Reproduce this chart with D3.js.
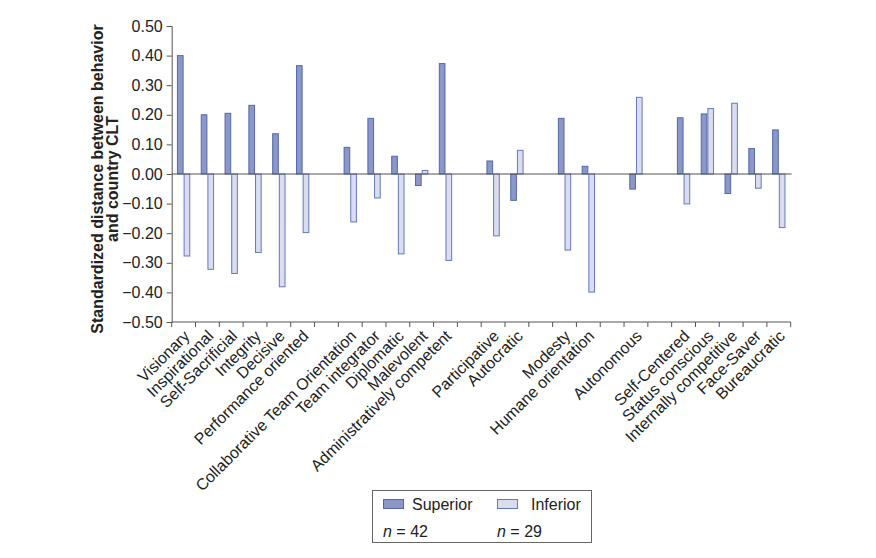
<!DOCTYPE html>
<html><head><meta charset="utf-8">
<script src="https://cdn.jsdelivr.net/npm/d3@7"></script>
<style>
body{margin:0;background:#fff;}
svg{font-family:"Liberation Sans",Arial,Helvetica,sans-serif;}
</style></head>
<body><svg id="c" width="876" height="558"></svg>
<script>
const categories = ["Visionary","Inspirational","Self-Sacrificial","Integrity","Decisive","Performance oriented",
  "Collaborative Team Orientation","Team integrator","Diplomatic","Malevolent","Administratively competent",
  "Participative","Autocratic",
  "Modesty","Humane orientation",
  "Autonomous",
  "Self-Centered","Status conscious","Internally competitive","Face-Saver","Bureaucratic"];
const groupOf = [0,0,0,0,0,0, 1,1,1,1,1, 2,2, 3,3, 4, 5,5,5,5,5];
const superior = [0.40,0.20,0.205,0.232,0.136,0.366, 0.090,0.188,0.060,-0.039,0.373, 0.044,-0.089, 0.188,0.026, -0.051, 0.190,0.203,-0.066,0.086,0.149];
const inferior = [-0.277,-0.322,-0.336,-0.265,-0.381,-0.198, -0.162,-0.081,-0.270,0.012,-0.292, -0.209,0.080, -0.257,-0.399, 0.259, -0.101,0.221,0.239,-0.048,-0.181];
const yTicks = [0.5,0.4,0.3,0.2,0.1,0,-0.1,-0.2,-0.3,-0.4,-0.5];
const seriesNames = ["Superior","Inferior"];
const seriesN = ["42","29"];

const svg = d3.select("#c");
const slotCount = categories.length + d3.max(groupOf);
const slots = d3.range(slotCount);
const x = d3.scaleBand().domain(slots).range([171.7, 790.7]).padding(0);
const y = d3.scaleLinear().domain([-0.5,0.5]).range([322,26]);
const slotOf = i => i + groupOf[i];
const bw = x.bandwidth()*0.28;

const colors = {Superior:{fill:"#8a97c7",stroke:"#5468ad"}, Inferior:{fill:"#d9ddef",stroke:"#6679bb"}};

// bars
const g = svg.append("g");
categories.forEach((c,i)=>{
  const cx = x(slotOf(i)) + x.bandwidth()/2;
  [[superior[i],"Superior",cx-bw],[inferior[i],"Inferior",cx]].forEach(([v,s,bx])=>{
    g.append("rect")
      .attr("x", bx+0.5).attr("width", bw-1)
      .attr("y", Math.min(y(v),y(0))).attr("height", Math.abs(y(v)-y(0)))
      .attr("fill", colors[s].fill).attr("stroke", colors[s].stroke).attr("stroke-width",1);
  });
});

// zero line
svg.append("line").attr("x1",171.7).attr("x2",791.5).attr("y1",y(0)).attr("y2",y(0))
  .attr("stroke","#555").attr("stroke-width",1.2);

// y axis
const ya = svg.append("g").attr("transform","translate(171.7,0)")
  .call(d3.axisLeft(y).tickValues(yTicks).tickFormat(d3.format(".2f")).tickSize(5).tickPadding(4));
ya.selectAll("text").attr("font-size","16px").attr("fill","#222").attr("font-family","Liberation Sans, Arial, sans-serif");
ya.selectAll("line,path").attr("stroke","#555");

// x axis
const xa = svg.append("g").attr("transform","translate(0,322)");
xa.append("line").attr("x1",171.7).attr("x2",790.7).attr("y1",0).attr("y2",0).attr("stroke","#555");
const bounds = slots.map(s=>x(s)).concat([x.range()[1]]);
xa.selectAll("line.t").data(bounds).enter().append("line").attr("class","t")
  .attr("x1",d=>d).attr("x2",d=>d).attr("y1",0).attr("y2",5).attr("stroke","#555");
xa.selectAll("text").data(categories).enter().append("text")
  .attr("transform",(d,i)=>`translate(${x(slotOf(i))+x.bandwidth()/2+7},${15}) rotate(-45)`)
  .attr("text-anchor","end").attr("font-size","16px").attr("fill","#222")
  .text(d=>d);

// y title
const yt = svg.append("text").attr("transform","translate(103,179) rotate(-90)")
  .attr("text-anchor","middle").attr("font-weight","bold").attr("font-size","16px").attr("fill","#222");
yt.append("tspan").attr("x",0).attr("dy",0).text("Standardized distance between behavior");
yt.append("tspan").attr("x",0).attr("dy","15").text("and country CLT");

// legend
const lg = svg.append("g");
lg.append("rect").attr("x",372.5).attr("y",490.5).attr("width",219).attr("height",52)
  .attr("fill","#fff").attr("stroke","#666").attr("stroke-width",1);
const lx = [383,497];
seriesNames.forEach((s,k)=>{
  lg.append("rect").attr("x",lx[k]+0.5).attr("y",499.5).attr("width",20).attr("height",9)
    .attr("fill",colors[s].fill).attr("stroke",colors[s].stroke);
  lg.append("text").attr("x",lx[k]+ (k===0?29:34)).attr("y",509.5).attr("font-size","16px").attr("fill","#222").text(s);
  const t = lg.append("text").attr("x",lx[k]).attr("y",536.5).attr("font-size","16px").attr("fill","#222");
  t.append("tspan").attr("font-style","italic").text("n");
  t.append("tspan").text(" = "+seriesN[k]);
});
</script></body></html>
